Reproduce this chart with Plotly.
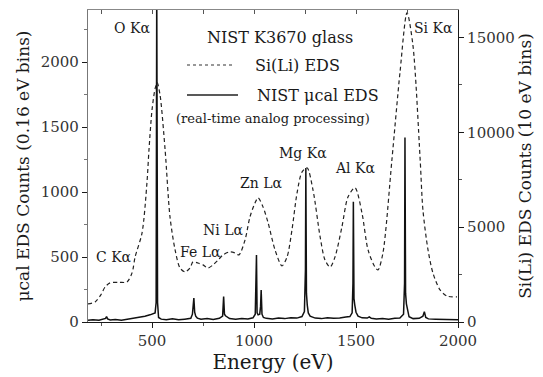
import plotly.graph_objects as go

# Si(Li) EDS spectrum (10 eV bins), right axis
sili_energy = [186, 221, 250, 270, 294, 340, 377, 402, 417, 451, 475, 485, 500, 515, 525,
               539, 564, 588, 613, 637, 662, 686, 701, 725, 750, 775, 799, 824, 848, 882,
               907, 926, 956, 980, 1005, 1020, 1044, 1069, 1103, 1137, 1162, 1186, 1211,
               1235, 1260, 1289, 1324, 1348, 1373, 1397, 1431, 1461, 1495, 1529, 1559,
               1593, 1608, 1632, 1676, 1716, 1750, 1779, 1814, 1828, 1853, 1877, 1912,
               1946, 1995]
sili_counts = [950, 1060, 1450, 1850, 2060, 2090, 2110, 2590, 3430, 4700, 7340, 9080, 11200,
               12300, 12620, 11990, 9080, 5540, 3800, 2850, 2640, 2850, 3170, 3110, 3010,
               2850, 3010, 3270, 3540, 3700, 3640, 3540, 4330, 5540, 6280, 6550, 6070, 5230,
               3800, 2960, 3430, 4860, 6810, 7900, 8130, 6970, 4490, 3270, 2900, 3430, 5020,
               6600, 7080, 5760, 3800, 2900, 2750, 3640, 8550, 13200, 16300, 14600, 8660,
               5910, 3800, 2590, 1690, 1370, 1320]

# NIST microcalorimeter EDS spectrum (0.16 eV bins), left axis
ucal_energy = [186, 210, 240, 262, 272, 277, 282, 295, 320, 350, 380, 410, 440, 465, 490,
               505, 515, 520, 523, 527, 532, 545, 570, 600, 630, 660, 690, 698, 702, 705,
               709, 714, 722, 740, 770, 800, 830, 846, 851, 855, 860, 868, 880, 910, 940,
               970, 995, 1006, 1010, 1012, 1015, 1020, 1028, 1032, 1035, 1039, 1046, 1060,
               1090, 1120, 1150, 1180, 1210, 1235, 1247, 1252, 1254, 1257, 1261, 1266, 1275,
               1300, 1330, 1360, 1390, 1420, 1450, 1470, 1481, 1485, 1487, 1490, 1494, 1500,
               1510, 1530, 1555, 1565, 1575, 1600, 1630, 1660, 1690, 1715, 1733, 1738, 1740,
               1743, 1747, 1752, 1760, 1780, 1810, 1828, 1835, 1842, 1855, 1890, 1930, 1970,
               2000]
ucal_counts = [14, 18, 13, 20, 28, 42, 24, 16, 19, 14, 22, 26, 34, 45, 55,
               62, 70, 150, 2600, 150, 35, 22, 18, 24, 17, 22, 28, 60, 120, 185,
               75, 45, 30, 22, 26, 20, 28, 45, 195, 60, 48, 38, 26, 22, 27,
               24, 32, 60, 250, 515, 70, 55, 60, 120, 245, 60, 35, 28,
               24, 30, 26, 32, 30, 42, 80, 400, 1185, 220, 130, 70, 45,
               30, 26, 32, 28, 30, 38, 42, 70, 300, 925, 180, 130, 75,
               45, 32, 30, 40, 28, 24, 26, 22, 28, 30, 60, 300, 1420,
               220, 140, 95, 40, 26, 28, 45, 80, 35, 24, 22, 20, 18,
               18]

# x tick values
energy_ticks = [500, 1000, 1500, 2000]

# peak labels
peak_names = ["O Kα", "Si Kα", "C Kα", "Fe Lα", "Ni Lα", "Zn Lα", "Mg Kα", "Al Kα"]

SERIF = "DejaVu Serif"
INK = "#1a1a1a"

fig = go.Figure()

fig.add_trace(go.Scatter(
    x=ucal_energy, y=ucal_counts, mode="lines",
    line=dict(color="#111111", width=1.5),
    xaxis="x", yaxis="y", showlegend=False, cliponaxis=True,
))
fig.add_trace(go.Scatter(
    x=sili_energy, y=sili_counts, mode="lines",
    line=dict(color="#222222", width=1.2, dash="4px,3px", shape="spline", smoothing=0.8),
    xaxis="x2", yaxis="y2", showlegend=False,
))

x_range = [186, 2000]
tickfont = dict(family=SERIF, size=15, color="#333333")

fig.update_layout(
    width=543, height=377,
    margin=dict(l=88, r=85, t=10, b=55, autoexpand=False),
    paper_bgcolor="white", plot_bgcolor="white",
    showlegend=False,
    font=dict(family=SERIF),
    xaxis=dict(
        range=x_range, tickvals=energy_ticks, ticks="outside", ticklen=5,
        tickcolor=INK, showline=True, linecolor=INK, linewidth=1.2,
        showgrid=False, zeroline=False, tickfont=tickfont, automargin=False,
        minor=dict(dtick=250, tick0=0, ticks="outside", ticklen=3, tickcolor="#555"),
        title=dict(text="Energy (eV)", font=dict(family=SERIF, size=20, color=INK), standoff=0),
    ),
    xaxis2=dict(
        range=x_range, overlaying="x", side="top", anchor="y2",
        dtick=250, tick0=0, ticks="inside", ticklen=4, tickcolor="#555",
        showticklabels=False, showline=True, linecolor="#888", linewidth=1.2,
        showgrid=False, zeroline=False, automargin=False,
    ),
    yaxis=dict(
        range=[0, 2400], dtick=500, ticks="outside", ticklen=5, tickcolor=INK,
        showline=True, linecolor="#777", linewidth=1.2,
        showgrid=False, zeroline=False, tickfont=tickfont, automargin=False,
        minor=dict(dtick=250, ticks="outside", ticklen=3, tickcolor="#777"),
        title=dict(text="μcal EDS Counts (0.16 eV bins)", font=dict(family=SERIF, size=17, color=INK), standoff=6),
    ),
    yaxis2=dict(
        range=[0, 16450], overlaying="y", side="right", anchor="x",
        dtick=5000, tickformat="d", ticks="outside", ticklen=5, tickcolor=INK,
        showline=True, linecolor=INK, linewidth=1.2,
        showgrid=False, zeroline=False, tickfont=tickfont, automargin=False,
        minor=dict(dtick=2500, ticks="outside", ticklen=3, tickcolor="#555"),
        title=dict(text="Si(Li) EDS Counts (10 eV bins)", font=dict(family=SERIF, size=17, color=INK), standoff=3),
    ),
)

# helpers to place things in paper coordinates of the plot frame
X0, X1, Y0, Y1 = 88, 458, 10, 322
def px(x):
    return (x - X0) / (X1 - X0)
def py(y):
    return (Y1 - y) / (Y1 - Y0)

def label(text, x, y, size=16, anchor="center"):
    fig.add_annotation(text=text, x=px(x), y=py(y), xref="paper", yref="paper",
                       showarrow=False, xanchor=anchor, yanchor="middle",
                       font=dict(family=SERIF, size=size, color=INK))

# peak labels
peak_pos = [(132, 28), (433, 28), (114, 257), (200, 252), (223, 230), (261, 183), (303, 153), (355, 168)]
for name, (x, y) in zip(peak_names, peak_pos):
    label(name, x, y, size=14)

# key
label("NIST K3670 glass", 280, 37, size=16)
fig.add_shape(type="line", xref="paper", yref="paper", x0=px(187), x1=px(233), y0=py(65), y1=py(65),
              line=dict(color="#333", width=1.1, dash="3px,3px"))
label("Si(Li) EDS", 253, 65, size=16, anchor="left")
fig.add_shape(type="line", xref="paper", yref="paper", x0=px(187), x1=px(238), y0=py(95), y1=py(95),
              line=dict(color="#222", width=1.3))
label("NIST μcal EDS", 255, 95, size=16, anchor="left")
label("(real-time analog processing)", 273, 118, size=13)

fig.write_html("out.html")
